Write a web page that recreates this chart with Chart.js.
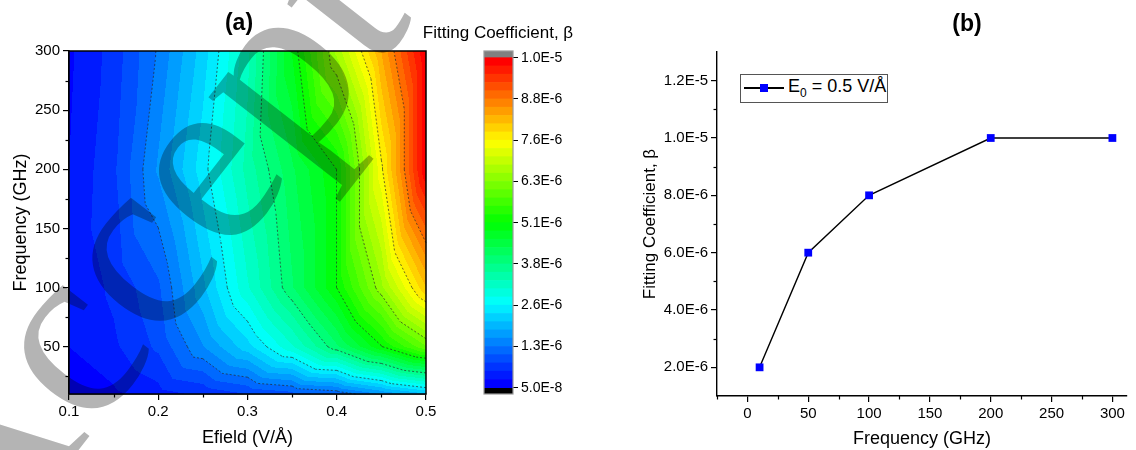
<!DOCTYPE html>
<html lang="en">
  <head>
    <meta charset="utf-8" />
    <title>Fitting coefficient vs Efield and frequency</title>
    <style>
      * {
        margin: 0;
        padding: 0;
      }
      body {
        width: 1136px;
        height: 450px;
        background: #fff;
        position: relative;
        overflow: hidden;
        font-family: "Liberation Sans", Arial, sans-serif;
      }
      canvas {
        position: absolute;
        top: 0;
      }
      #chartA {
        left: 0;
      }
      #chartC {
        left: 410px;
      }
      #chartB {
        left: 620px;
      }
      #watermark {
        left: 0;
        pointer-events: none;
        mix-blend-mode: multiply;
      }
      #legendB {
        position: absolute;
        left: 740px;
        top: 74px;
        width: 146px;
        height: 27px;
        border: 1px solid #555;
        background: #fff;
      }
      .lgLine {
        position: absolute;
        left: 3px;
        top: 12px;
        width: 40px;
        height: 1.5px;
        background: #000;
      }
      .lgMark {
        position: absolute;
        left: 19px;
        top: 9px;
        width: 8px;
        height: 8px;
        background: #0000ff;
      }
      .lgText {
        position: absolute;
        left: 47px;
        top: 1px;
        font-size: 18px;
        white-space: nowrap;
      }
      .lgText sub {
        font-size: 12px;
      }
    </style>
  </head>
  <body>
    <canvas id="chartA" width="440" height="450"></canvas>
    <canvas id="chartC" width="190" height="450"></canvas>
    <canvas id="chartB" width="516" height="450"></canvas>
    <div id="legendB">
      <span class="lgLine"></span><span class="lgMark"></span>
      <span class="lgText">E<sub>0</sub> = 0.5 V/Å</span>
    </div>
    <canvas id="watermark" width="1136" height="450"></canvas>

    <script src="https://cdn.jsdelivr.net/npm/chart.js@4.4.1/dist/chart.umd.min.js"></script>

    <script>
      // ---- data (beta values in units of 1e-6) ----
      const unit = 1e-6;
      const efieldGrid = [0.1, 0.15, 0.2, 0.25, 0.3, 0.35, 0.4, 0.45, 0.5];
      const freqGrid = [10, 50, 100, 200, 300];
      const beta10 = [0.05, 0.25, 0.45, 0.6, 0.8, 0.95, 1.1, 1.56, 2.0];
      const beta50 = [0.3, 0.5, 0.85, 1.53, 2.19, 3.0, 3.98, 5.0, 6.0];
      const beta100 = [0.35, 0.6, 1.0, 1.98, 3.0, 4.0, 5.03, 6.45, 8.0];
      const beta200 = [0.3, 0.75, 1.58, 2.43, 3.38, 4.23, 5.03, 7.45, 10.0];
      const beta300 = [0.25, 0.65, 1.33, 2.16, 3.21, 4.8, 6.59, 8.27, 10.0];
      const betaRows = [beta10, beta50, beta100, beta200, beta300];

      // panel (b): E0 = 0.5 V/A
      const freqB = [10, 50, 100, 200, 300];
      const betaB = [2.0, 6.0, 8.0, 10.0, 10.0];

      // ticks
      const efieldTicks = [0.1, 0.2, 0.3, 0.4, 0.5];
      const efieldLabels = ["0.1", "0.2", "0.3", "0.4", "0.5"];
      const efieldMinor = [0.15, 0.25, 0.35, 0.45];
      const freqTicks = [50, 100, 150, 200, 250, 300];
      const freqMinor = [25, 75, 125, 175, 225, 275];
      const cbLabels = ["5.0E-8", "1.3E-6", "2.6E-6", "3.8E-6", "5.1E-6", "6.3E-6", "7.6E-6", "8.8E-6", "1.0E-5"];
      const freqBTicks = [0, 50, 100, 150, 200, 250, 300];
      const freqBMinor = [-25, 25, 75, 125, 175, 225, 275];
      const betaBTicks = [2, 4, 6, 8, 10, 12];
      const betaBLabels = ["2.0E-6", "4.0E-6", "6.0E-6", "8.0E-6", "1.0E-5", "1.2E-5"];
      const betaBMinor = [3, 5, 7, 9, 11];

      // colour scale: 40 levels between min and max
      const levelMin = 0.05;
      const levelMax = 10.0;
      const levelCount = 40;
      const labelStep = (levelMax - levelMin) / 8;
      const cbTickValues = cbLabels.map((_, k) => levelMin + k * labelStep);
      const contourLevels = cbTickValues.slice(1, -1);

      Chart.defaults.font.family = "'Liberation Sans', Arial, sans-serif";
      Chart.defaults.color = "#000";
      Chart.defaults.animation = false;

      function rainbow(t) {
        const stops = [
          [0, 0, 255],
          [0, 255, 255],
          [0, 255, 0],
          [255, 255, 0],
          [255, 0, 0],
        ];
        const p = Math.min(Math.max(t, 0), 1) * 4;
        const i = Math.min(Math.floor(p), 3);
        const f = p - i;
        return stops[i].map((c, k) => Math.round(c + (stops[i + 1][k] - c) * f));
      }
      const bandColors = [];
      for (let i = 0; i < levelCount; i++) bandColors.push(rainbow(i / (levelCount - 1)));

      function bandIndex(v) {
        const b = Math.floor(((v - levelMin) / (levelMax - levelMin)) * levelCount);
        return Math.min(Math.max(b, 0), levelCount - 1);
      }

      function locate(arr, v) {
        let i = 0;
        while (i < arr.length - 2 && v > arr[i + 1]) i++;
        return [i, (v - arr[i]) / (arr[i + 1] - arr[i])];
      }

      // linear interpolation over triangles (diagonal from lower-left to upper-right)
      function betaAt(e, f) {
        const [i, fx] = locate(efieldGrid, e);
        const [j, fy] = locate(freqGrid, f);
        const v00 = betaRows[j][i],
          v10 = betaRows[j][i + 1],
          v01 = betaRows[j + 1][i],
          v11 = betaRows[j + 1][i + 1];
        if (fx >= fy) return v00 + fx * (v10 - v00) + fy * (v11 - v10);
        return v00 + fy * (v01 - v00) + fx * (v11 - v01);
      }

      const contourPlot = {
        id: "contourPlot",
        beforeDatasetsDraw(chart) {
          const { ctx, chartArea: a, scales } = chart;
          const left = Math.round(a.left),
            top = Math.round(a.top);
          const w = Math.round(a.right) - left,
            h = Math.round(a.bottom) - top;
          const img = ctx.createImageData(w, h);
          for (let py = 0; py < h; py++) {
            const f = scales.y.getValueForPixel(top + py + 0.5);
            for (let px = 0; px < w; px++) {
              const e = scales.x.getValueForPixel(left + px + 0.5);
              const c = bandColors[bandIndex(betaAt(e, f))];
              const k = (py * w + px) * 4;
              img.data[k] = c[0];
              img.data[k + 1] = c[1];
              img.data[k + 2] = c[2];
              img.data[k + 3] = 255;
            }
          }
          ctx.putImageData(img, left, top);
        },
        afterDatasetsDraw(chart) {
          const { ctx, scales } = chart;
          const X = (e) => scales.x.getPixelForValue(e);
          const Y = (f) => scales.y.getPixelForValue(f);
          ctx.save();
          ctx.strokeStyle = "rgba(40,40,40,0.85)";
          ctx.lineWidth = 0.8;
          ctx.setLineDash([2, 2]);
          const node = (i, j) => ({ e: efieldGrid[i], f: freqGrid[j], v: betaRows[j][i] });
          for (let j = 0; j < freqGrid.length - 1; j++) {
            for (let i = 0; i < efieldGrid.length - 1; i++) {
              const tris = [
                [node(i, j), node(i + 1, j), node(i + 1, j + 1)],
                [node(i, j), node(i, j + 1), node(i + 1, j + 1)],
              ];
              for (const tri of tris) {
                for (const L of contourLevels) {
                  const pts = [];
                  for (let k = 0; k < 3; k++) {
                    const p = tri[k],
                      q = tri[(k + 1) % 3];
                    if (p.v >= L !== q.v >= L) {
                      const t = (L - p.v) / (q.v - p.v);
                      pts.push([X(p.e + t * (q.e - p.e)), Y(p.f + t * (q.f - p.f))]);
                    }
                  }
                  if (pts.length === 2) {
                    ctx.beginPath();
                    ctx.moveTo(pts[0][0], pts[0][1]);
                    ctx.lineTo(pts[1][0], pts[1][1]);
                    ctx.stroke();
                  }
                }
              }
            }
          }
          ctx.restore();
        },
      };

      // frame, minor ticks and panel text
      const decorations = {
        id: "decorations",
        afterDraw(chart, args, opts) {
          const { ctx, chartArea: a, scales } = chart;
          ctx.save();
          if (opts.frame) {
            ctx.strokeStyle = opts.frame.color;
            ctx.lineWidth = opts.frame.width;
            ctx.strokeRect(a.left, a.top, a.right - a.left, a.bottom - a.top);
          }
          ctx.strokeStyle = "#000";
          ctx.lineWidth = 1.2;
          (opts.xMinor || []).forEach((v) => {
            const px = Math.round(scales.x.getPixelForValue(v)) + 0.5;
            ctx.beginPath();
            ctx.moveTo(px, a.bottom);
            ctx.lineTo(px, a.bottom + 3.5);
            ctx.stroke();
          });
          (opts.yMinor || []).forEach((v) => {
            const py = Math.round(scales.y.getPixelForValue(v)) + 0.5;
            ctx.beginPath();
            ctx.moveTo(a.left, py);
            ctx.lineTo(a.left - 3.5, py);
            ctx.stroke();
          });
          (opts.texts || []).forEach((t) => {
            ctx.font = t.font;
            ctx.fillStyle = "#000";
            ctx.textAlign = "center";
            ctx.textBaseline = "middle";
            ctx.fillText(t.text, t.x, t.y);
          });
          ctx.restore();
        },
      };

      // ---- panel (a): contour map ----
      const gridPoints = [];
      freqGrid.forEach((f, j) => efieldGrid.forEach((e, i) => gridPoints.push({ x: e, y: f, v: betaRows[j][i] * unit })));

      new Chart(document.getElementById("chartA"), {
        type: "scatter",
        data: { datasets: [{ data: gridPoints, pointRadius: 0 }] },
        options: {
          responsive: false,
          layout: { padding: { top: 51, right: 14, left: 0, bottom: 0 } },
          scales: {
            x: {
              type: "linear",
              min: 0.1,
              max: 0.5,
              afterFit: (s) => (s.height = 56),
              afterBuildTicks: (s) => (s.ticks = efieldTicks.map((v) => ({ value: v }))),
              ticks: { font: { size: 15 }, padding: 3, maxRotation: 0, callback: (v, i) => efieldLabels[i] },
              grid: { drawOnChartArea: false, tickLength: 6, color: "#000", lineWidth: 1.2 },
              border: { color: "#000", width: 1.5 },
              title: { display: true, text: "Efield (V/Å)", font: { size: 18 }, padding: { top: 0, bottom: 1 } },
            },
            y: {
              type: "linear",
              min: 10,
              max: 300,
              afterFit: (s) => (s.width = 69),
              afterBuildTicks: (s) => (s.ticks = freqTicks.map((v) => ({ value: v }))),
              ticks: { font: { size: 15 }, padding: 3, callback: (v, i) => String(freqTicks[i]) },
              grid: { drawOnChartArea: false, tickLength: 6, color: "#000", lineWidth: 1.2 },
              border: { color: "#000", width: 1.5 },
              title: { display: true, text: "Frequency (GHz)", font: { size: 18 }, padding: { top: 10, bottom: 0 } },
            },
          },
          plugins: {
            legend: { display: false },
            tooltip: { enabled: false },
            decorations: {
              frame: { color: "#000", width: 1.5 },
              xMinor: efieldMinor,
              yMinor: freqMinor,
              texts: [{ text: "(a)", x: 239, y: 24, font: "bold 23px 'Liberation Sans', Arial, sans-serif" }],
            },
          },
        },
        plugins: [contourPlot, decorations],
      });

      // ---- colour bar ----
      const cbMin = levelMin - 0.153 * labelStep;
      const cbMax = levelMax + 0.162 * labelStep;
      const bandStep = (levelMax - levelMin) / levelCount;
      const cbDatasets = bandColors.map((c, i) => ({
        data: [[levelMin + i * bandStep, levelMin + (i + 1) * bandStep]],
        backgroundColor: `rgb(${c[0]},${c[1]},${c[2]})`,
      }));
      cbDatasets.push({ data: [[cbMin, levelMin]], backgroundColor: "#000" });
      cbDatasets.push({ data: [[levelMax, cbMax]], backgroundColor: "#808080" });
      cbDatasets.forEach((d) => Object.assign(d, { grouped: false, barPercentage: 1, categoryPercentage: 1, borderWidth: 0 }));

      new Chart(document.getElementById("chartC"), {
        type: "bar",
        data: { labels: ["beta"], datasets: cbDatasets },
        options: {
          responsive: false,
          layout: { padding: { top: 51, right: 0, left: 74, bottom: 56 } },
          scales: {
            x: { display: false },
            y: {
              position: "right",
              min: cbMin,
              max: cbMax,
              afterFit: (s) => (s.width = 87),
              afterBuildTicks: (s) => (s.ticks = cbTickValues.map((v) => ({ value: v }))),
              ticks: { font: { size: 14 }, padding: 3, callback: (v, i) => cbLabels[i] },
              grid: { drawOnChartArea: false, tickLength: 5, color: "#000", lineWidth: 1 },
              border: { display: false },
            },
          },
          plugins: {
            legend: { display: false },
            tooltip: { enabled: false },
            decorations: {
              frame: { color: "#9a9a9a", width: 1.2 },
              texts: [{ text: "Fitting Coefficient, β", x: 88, y: 33, font: "17px 'Liberation Sans', Arial, sans-serif" }],
            },
          },
        },
        plugins: [decorations],
      });

      // ---- panel (b): beta vs frequency ----
      new Chart(document.getElementById("chartB"), {
        type: "line",
        data: {
          datasets: [
            {
              label: "E0 = 0.5 V/Å",
              data: freqB.map((f, i) => ({ x: f, y: betaB[i] })),
              borderColor: "#000",
              borderWidth: 1.4,
              pointStyle: "rect",
              pointRadius: 5.5,
              pointBackgroundColor: "#0000ff",
              pointBorderColor: "#0000ff",
              pointBorderWidth: 0,
            },
          ],
        },
        options: {
          responsive: false,
          layout: { padding: { top: 52, right: 9, left: 0, bottom: 0 } },
          scales: {
            x: {
              type: "linear",
              min: -25,
              max: 312,
              afterFit: (s) => (s.height = 54),
              afterBuildTicks: (s) => (s.ticks = freqBTicks.map((v) => ({ value: v }))),
              ticks: { font: { size: 15 }, padding: 3, maxRotation: 0, callback: (v, i) => String(freqBTicks[i]) },
              grid: { drawOnChartArea: false, tickLength: 6, color: "#000", lineWidth: 1.2 },
              border: { color: "#000", width: 1.4 },
              title: { display: true, text: "Frequency (GHz)", font: { size: 18 }, padding: { top: 0, bottom: 0 } },
            },
            y: {
              type: "linear",
              min: 1,
              max: 13,
              afterFit: (s) => (s.width = 97),
              afterBuildTicks: (s) => (s.ticks = betaBTicks.map((v) => ({ value: v }))),
              ticks: { font: { size: 15 }, padding: 3, callback: (v, i) => betaBLabels[i] },
              grid: { drawOnChartArea: false, tickLength: 6, color: "#000", lineWidth: 1.2 },
              border: { color: "#000", width: 1.4 },
              title: { display: true, text: "Fitting Coefficient, β", font: { size: 17 }, padding: { top: 20, bottom: 0 } },
            },
          },
          plugins: {
            legend: { display: false },
            tooltip: { enabled: false },
            decorations: {
              xMinor: freqBMinor,
              yMinor: betaBMinor,
              texts: [{ text: "(b)", x: 347, y: 25, font: "bold 23px 'Liberation Sans', Arial, sans-serif" }],
            },
          },
        },
        plugins: [decorations],
      });

      // ---- journal watermark ----
      const wm = document.getElementById("watermark").getContext("2d");
      wm.save();
      wm.translate(-20.5, 576.8);
      wm.rotate((-52 * Math.PI) / 180);
      wm.font = "250px 'Liberation Serif', 'Times New Roman', serif";
      wm.fillStyle = "rgb(180,180,180)";
      wm.textBaseline = "alphabetic";
      wm.fillText("Accepted", 0, 0);
      wm.restore();
    </script>
  </body>
</html>
